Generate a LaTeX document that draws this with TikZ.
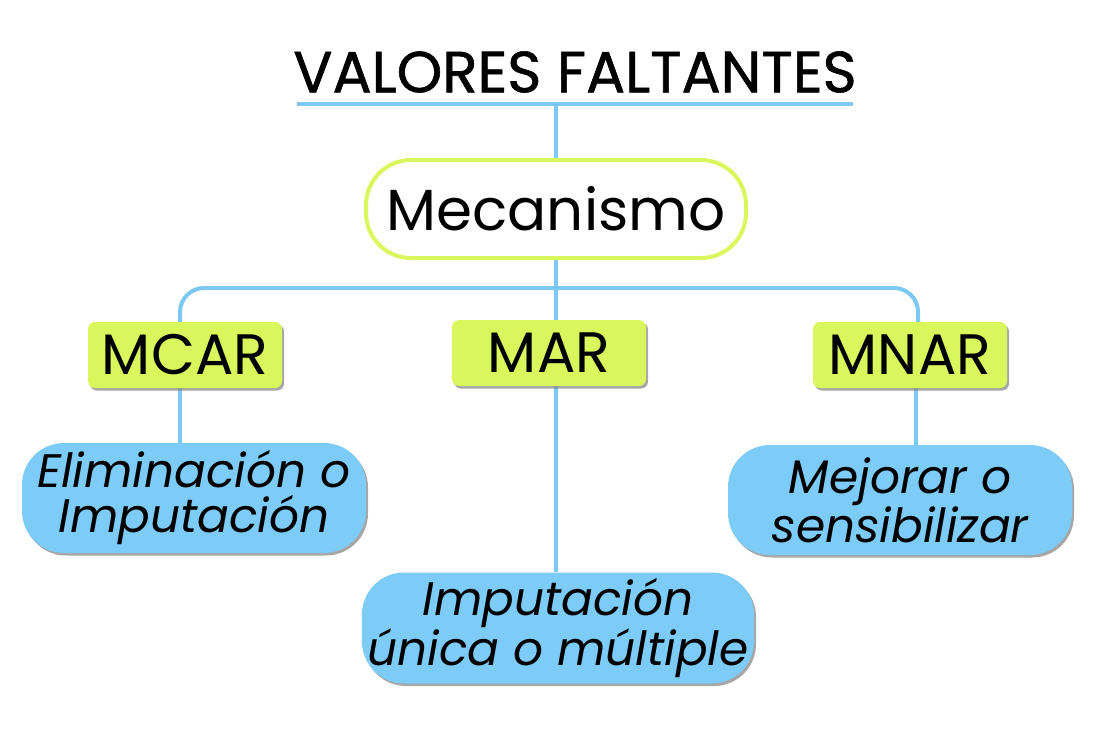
\documentclass[tikz,border=0pt]{standalone}
\usepackage{fontspec}
\setmainfont{Poppins}
\newfontfamily\titlefont[FakeBold=1]{Poppins}
\usetikzlibrary{positioning, shadows, backgrounds}
\definecolor{linkblue}{RGB}{124, 200, 242}
\definecolor{boxblue}{RGB}{125, 203, 247}
\definecolor{limegreen}{RGB}{217, 246, 92}

\begin{document}
\begin{tikzpicture}[x=1pt, y=-1pt,
    link/.style={draw=linkblue, line width=4pt},
    heading/.style={font=\titlefont\fontsize{58}{60}\selectfont, inner sep=0pt},
    mech/.style={draw=limegreen, line width=4pt, fill=white, rounded corners=45pt,
        minimum width=380pt, minimum height=98pt, font=\fontsize{58}{60}\selectfont},
    kind/.style={fill=limegreen, rounded corners=7pt, minimum width=194pt, minimum height=66pt,
        font=\fontsize{57}{60}\selectfont,
        drop shadow={shadow xshift=2pt, shadow yshift=-2.5pt, opacity=0.7}},
    action/.style={fill=boxblue, rounded corners=42pt, minimum width=344pt, minimum height=110pt,
        align=center, inner sep=4pt, font=\fontsize{47}{45}\selectfont\itshape,
        drop shadow={shadow xshift=2pt, shadow yshift=-2.5pt, opacity=0.7}}]
    \useasboundingbox (0,0) rectangle (1100,733);

    % 1. Title and its underline
    \node[heading] (title) at (575,72) {VALORES FALTANTES};
    \coordinate (ulL) at (297,104);
    \coordinate (ulR) at (853,104);
    \coordinate (ulM) at (556,104);
    \draw[link] (ulL) -- (ulR);

    % 2. Mechanism
    \node[mech] (meca) at (556,209) {Mecanismo};
    \coordinate (split) at (556,288);

    % 3. Kinds of missingness
    \node[kind] (mcar) at (185,355) {MCAR};
    \node[kind] (mar) at (549,353) {MAR};
    \node[kind] (mnar) at (910,355) {MNAR};

    % 4. What to do in each case
    \node[action] (elim) at (194,498) {Eliminación o\\Imputación};
    \node[action, minimum width=392pt, minimum height=111pt] (imp) at (558,628) {Imputación\\única o múltiple};
    \node[action] (mej) at (900,500) {Mejorar o\\sensibilizar};

    % 5. Connectors (behind the boxes)
    \begin{scope}[on background layer]
        \draw[link] (ulM) -- (ulM |- meca.north);
        \draw[link] (meca.south) -- (meca.south |- mar.north);
        \draw[link, rounded corners=24pt] (split) -| ([xshift=-5pt]mcar.north);
        \draw[link, rounded corners=24pt] (split) -| ([xshift=8pt]mnar.north);
        \draw[link] ([xshift=-5pt]mcar.south) -- ([xshift=-5pt]mcar.south |- elim.north);
        \draw[link] (mar.south -| split) -- (split |- imp.north);
        \draw[link] ([xshift=6pt]mnar.south) -- ([xshift=6pt]mnar.south |- mej.north);
    \end{scope}
\end{tikzpicture}
\end{document}
